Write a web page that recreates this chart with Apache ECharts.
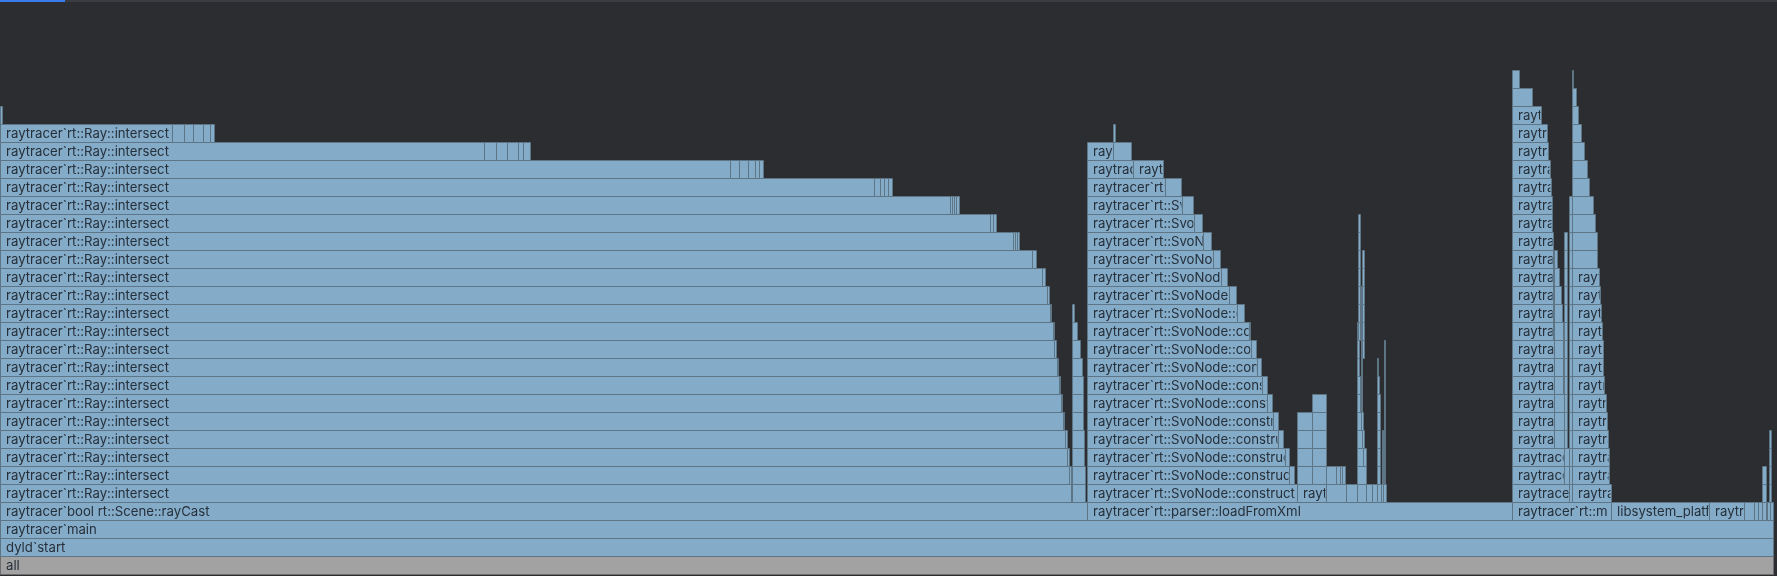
<!DOCTYPE html>
<html><head><meta charset="utf-8">
<script src="https://cdn.jsdelivr.net/npm/echarts@6/dist/echarts.min.js"></script>
<style>html,body{margin:0;padding:0;background:#2b2d31;overflow:hidden}#c{width:1777px;height:576px;}</style>
</head><body><div id="c"></div>
<script>
// ---- DATA (x in sample units, depth = stack level; all frames: [depth, start, end, label]) ----
const INTERSECT = 'raytracer`rt::Ray::intersect';
const SVO = 'raytracer`rt::SvoNode::construct';
const GENERIC = 'raytracer`rt::';

const rootFrames = [
  [0, 0, 1773.3, 'all'],
  [1, 0, 1773.3, 'dyld`start'],
  [2, 0, 1772.7, 'raytracer`main'],
  [3, 0, 1086.5, 'raytracer`bool rt::Scene::rayCast'],
  [3, 1086.5, 1512.3, 'raytracer`rt::parser::loadFromXml'],
  [3, 1512.3, 1610.5, 'raytracer`rt::m'],
  [3, 1610.5, 1708.7, 'libsystem_platform'],
  [3, 1708.7, 1744.3, 'raytracer`'],
  [3, 1744.3, 1754.3, ''], [3, 1754.3, 1758.3, ''], [3, 1758.3, 1761.7, ''],
  [3, 1761.7, 1766, ''], [3, 1766, 1767.3, ''], [3, 1767.3, 1770, ''], [3, 1770, 1772.7, '']
];

// recursive Ray::intersect: end of the main frame for depth 4..24
const intersectEnds = [1071, 1069, 1066.7, 1065, 1062.7, 1060.7, 1058.7, 1056.7, 1054, 1052.7,
  1050, 1046.7, 1042, 1032, 1013, 990, 950, 874, 730, 484, 172];
const intersectSide = [
  [25, 0, 2],
  [24, 172, 184], [24, 184, 193], [24, 193, 203], [24, 203, 210], [24, 210, 214],
  [23, 484, 496], [23, 496, 507], [23, 507, 518], [23, 518, 523], [23, 523, 530],
  [22, 730, 739], [22, 739, 748], [22, 748, 755], [22, 755, 759], [22, 759, 763],
  [21, 874, 880], [21, 880, 884], [21, 884, 888], [21, 888, 892],
  [20, 950, 952], [20, 952, 954], [20, 954, 956], [20, 956, 959],
  [19, 990, 993], [19, 993, 996],
  [18, 1013, 1015], [18, 1015, 1017], [18, 1017, 1019],
  [17, 1032, 1036], [16, 1042, 1045], [15, 1046.7, 1049], [14, 1050, 1051],
  [13, 1052.7, 1054], [12, 1054, 1055.5], [11, 1056.7, 1058], [10, 1058.7, 1060],
  [9, 1060.7, 1062], [8, 1062.7, 1064], [7, 1065, 1066.5], [6, 1066.7, 1068.5], [5, 1069, 1070.7]
];
// second small stack under rayCast: end for depth 4..14
const rayCastStack2Ends = [1085, 1085, 1084.3, 1084.3, 1083.3, 1083.3, 1082.7, 1082, 1080, 1077.3, 1074];

// SvoNode::construct chain under loadFromXml: end for depth 4..21
const svoEnds = [1297.3, 1289.3, 1285, 1278.3, 1273.3, 1267.3, 1262.3, 1256.7, 1250.7, 1248.7,
  1236.7, 1229.3, 1220.7, 1212.7, 1203, 1194, 1181.7, 1164.7];
const svoSide = [
  [5, 1289.3, 1294], [6, 1285, 1288.7], [7, 1278.3, 1282.7], [8, 1273.3, 1277.7],
  [9, 1267.3, 1271.7], [10, 1262.3, 1266.7], [11, 1256.7, 1261], [12, 1250.7, 1255.7],
  [13, 1248.7, 1250], [14, 1236.7, 1244], [15, 1229.3, 1236.3], [16, 1220.7, 1227.3],
  [17, 1212.7, 1219.7], [18, 1203, 1210.7], [19, 1194, 1201.7], [20, 1181.7, 1192.7],
  [21, 1164.7, 1180.7],
  [22, 1086.5, 1133], [22, 1133, 1162.7],
  [23, 1086.5, 1113], [23, 1113, 1130.7], [24, 1113, 1115]
];
// other children of loadFromXml and their towers
const loadXmlOther = [
  [4, 1297.3, 1325.7], [4, 1325.7, 1345.7], [4, 1345.7, 1356.7], [4, 1356.7, 1365.7],
  [4, 1365.7, 1371.7], [4, 1371.7, 1376.7], [4, 1376.7, 1380.7], [4, 1380.7, 1383.3], [4, 1383.3, 1385.7],
  [5, 1297.3, 1312.3], [6, 1297.3, 1312.3], [7, 1297.3, 1312.3], [8, 1297.3, 1312.3],
  [5, 1312.3, 1325.7], [6, 1312.3, 1325.7], [7, 1312.3, 1325.7], [8, 1312.3, 1325.7], [9, 1312.3, 1325.7],
  [5, 1325.7, 1335.7], [5, 1335.7, 1340], [5, 1340, 1342.3], [5, 1342.3, 1344.7],
  [5, 1356.7, 1365.7], [6, 1356.7, 1363.3], [6, 1363.3, 1365.7], [7, 1356.7, 1361.7], [7, 1361.7, 1364.3],
  [8, 1356.7, 1360.7], [8, 1361, 1363], [9, 1357, 1360], [9, 1360.5, 1362], [10, 1357, 1359.7], [10, 1360.5, 1362],
  [11, 1357, 1359.3], [11, 1360.5, 1362], [12, 1357, 1359.3], [12, 1360.5, 1362], [12, 1362.3, 1364],
  [13, 1356.5, 1358.3], [13, 1358.3, 1360], [13, 1360.5, 1362], [13, 1362.3, 1364],
  [14, 1357.5, 1360], [14, 1360.5, 1362], [14, 1362.3, 1364], [15, 1358, 1360], [15, 1360.5, 1362], [15, 1362.3, 1364],
  [16, 1358.3, 1360], [16, 1362.3, 1364], [17, 1358.3, 1360], [17, 1362.3, 1364], [18, 1358.3, 1360], [19, 1358.3, 1360],
  [5, 1376.7, 1380], [6, 1376.7, 1380], [7, 1376.7, 1380], [8, 1376.7, 1380], [9, 1376.7, 1380],
  [10, 1376.7, 1379.3], [11, 1376.7, 1378],
  [5, 1381.7, 1383], [6, 1381.7, 1383], [7, 1381.7, 1383],
  [5, 1383.5, 1385], [6, 1383.5, 1385], [7, 1383.5, 1385], [8, 1383.5, 1385], [9, 1383.5, 1385],
  [10, 1383.5, 1385], [11, 1383.5, 1385], [12, 1383.5, 1385]
];
// stacks under "rt::m": left stack end for depth 4..27 (starts 1512.3)
const mStackAEnds = [1569, 1564.3, 1564.3, 1554.3, 1554.3, 1554.3, 1554, 1554, 1554, 1553.3, 1553.3, 1553.3,
  1553.3, 1553.3, 1552.7, 1551.7, 1551.7, 1550.7, 1549.7, 1548.3, 1546.7, 1541, 1532.3, 1519.3];
// right stack end for depth 4..27 (starts 1571.5)
const mStackBEnds = [1610.5, 1609.3, 1608.7, 1607.7, 1606.7, 1605.7, 1604.3, 1603.3, 1602.7, 1601.7, 1601,
  1599.7, 1598.7, 1596.7, 1596.7, 1594.7, 1592.7, 1589.3, 1586.7, 1584.3, 1581, 1577.7, 1575.7, 1572.7];
const mStackSide = [
  [5, 1564.3, 1569], [6, 1564.3, 1569],
  [7, 1554.3, 1564.3], [8, 1554.3, 1564.3], [9, 1554.3, 1564.3], [10, 1554, 1563.3], [11, 1554, 1563.3],
  [12, 1554, 1563.3], [13, 1554, 1562.7], [14, 1554, 1561.7], [15, 1554, 1560.7], [16, 1554, 1559], [17, 1554, 1556.7],
  [7, 1564.3, 1567], [8, 1564.3, 1567], [9, 1564.3, 1567], [10, 1564.3, 1567], [11, 1564.3, 1567], [12, 1564.3, 1567],
  [13, 1564.3, 1566.7], [14, 1564.3, 1566.7], [15, 1564.3, 1566.7], [16, 1564.3, 1566.7], [17, 1564.3, 1566.7], [18, 1564.3, 1566.7]
];
const mStackCEnds = 20; // thin column 1569-1571.5 from depth 4 up to this depth
const tailTowers = [
  [4, 1762.3, 1765.7], [5, 1762.3, 1765.7],
  [4, 1769, 1771], [5, 1769, 1771], [6, 1769, 1771], [7, 1769, 1771]
];

// ---- build flat frame list ----
const frames = [];
rootFrames.forEach(f => frames.push(f));
intersectEnds.forEach((e, i) => frames.push([4 + i, 0, e, INTERSECT]));
intersectSide.forEach(f => frames.push([f[0], f[1], f[2], GENERIC]));
rayCastStack2Ends.forEach((e, i) => frames.push([4 + i, 1071.5, e, GENERIC]));
svoEnds.forEach((e, i) => frames.push([4 + i, 1086.5, e, SVO]));
svoSide.forEach(f => frames.push([f[0], f[1], f[2], f[1] === 1086.5 || f[0] === 22 ? SVO : GENERIC]));
loadXmlOther.forEach(f => frames.push([f[0], f[1], f[2], GENERIC]));
mStackAEnds.forEach((e, i) => frames.push([4 + i, 1512.3, e, GENERIC]));
mStackBEnds.forEach((e, i) => frames.push([4 + i, 1571.5, e, GENERIC]));
mStackSide.forEach(f => frames.push([f[0], f[1], f[2], GENERIC]));
for (let d = 4; d <= mStackCEnds; d++) frames.push([d, 1569, 1571.5, '']);
tailTowers.forEach(f => frames.push([f[0], f[1], f[2], '']));

const chart = echarts.init(document.getElementById('c'), null, {renderer: 'canvas'});
const FILL = '#84abc8', STROKE = '#5e7585', ALLFILL = '#a2a2a2', TEXT = '#26303a';

chart.setOption({
  backgroundColor: '#2b2d31',
  animation: false,
  grid: {left: 0, right: 0, top: 16, bottom: 2},
  xAxis: {type: 'value', min: 0, max: 1777, show: false},
  yAxis: {type: 'value', min: 0, max: 31, show: false},
  graphic: [
    {type: 'rect', left: 0, top: 0, shape: {width: 1777, height: 2}, style: {fill: '#3a3c41'}, silent: true},
    {type: 'rect', left: 0, top: 0, shape: {width: 65, height: 2}, style: {fill: '#3b7cf0'}, silent: true}
  ],
  series: [{
    type: 'custom',
    clip: false,
    data: frames.map(f => [f[0], f[1], f[2]]),
    encode: {x: [1, 2], y: 0},
    renderItem: function (params, api) {
      const d = api.value(0), s = api.value(1), e = api.value(2);
      const label = frames[params.dataIndex][3];
      const p0 = api.coord([s, d + 1]);
      const p1 = api.coord([e, d]);
      const x0 = Math.round(p0[0]) + 0.5;
      let x1 = Math.round(p1[0]) + 0.5;
      if (x1 - x0 < 1) x1 = x0 + 1;
      const top = Math.round(p0[1]) + 0.5;
      const h = Math.round(p1[1] - p0[1]);
      const isAll = label === 'all';
      const children = [{
        type: 'rect',
        shape: {x: x0, y: top, width: x1 - x0, height: h},
        style: {fill: isAll ? ALLFILL : FILL, stroke: isAll ? '#6e6e6e' : STROKE, lineWidth: 1}
      }];
      if (label && x1 - x0 >= 26) {
        children.push({
          type: 'text',
          style: {
            text: label, x: x0 + 5.5, y: top + h / 2 + 0.5,
            verticalAlign: 'middle', align: 'left',
            font: '13.2px Inter', fill: TEXT
          },
          clipPath: {type: 'rect', shape: {x: x0, y: top, width: x1 - x0 - 1, height: h}}
        });
      }
      return {type: 'group', children: children};
    }
  }]
});
</script></body></html>
